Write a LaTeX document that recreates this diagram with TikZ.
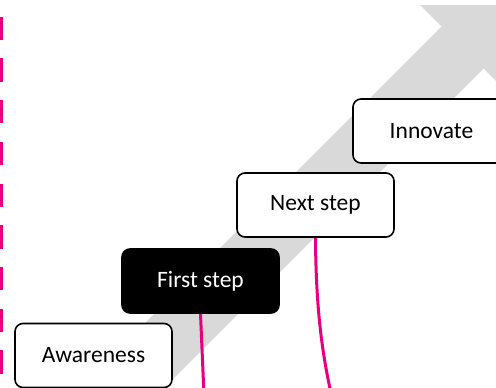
\documentclass[tikz,border=0pt]{standalone}
\usepackage{fontspec}
\setmainfont{Carlito}
\definecolor{magentaline}{RGB}{230,0,126}
\definecolor{arrowgray}{RGB}{217,217,217}
\pgfdeclarelayer{back}
\pgfdeclarelayer{links}
\pgfsetlayers{back,links,main}
\begin{document}
\begin{tikzpicture}[x=1pt,y=-1pt,
  stepbox/.style={draw=black, line width=1.6pt, rounded corners=8pt, fill=white,
    minimum width=157pt, minimum height=64pt, inner sep=0pt,
    font=\fontsize{23.5}{28}\selectfont},
  activebox/.style={stepbox, fill=black, text=white},
  link/.style={draw=magentaline, line width=3pt}]
\useasboundingbox (0,0) rectangle (496,388);
\clip (0,0) rectangle (496,388);
% step boxes
\node[stepbox] (aw) at (93.5,355.5) {Awareness};
\node[activebox] (fs) at (200.5,281) {First step};
\node[stepbox] (ns) at (315.5,205) {Next step};
\node[stepbox] (in) at (431.5,131) {Innovate};
% big gray arrow
\begin{pgfonlayer}{back}
\fill[arrowgray] (68,400) -- (441.5,26.5) -- (420,5) -- (505,5) -- (505,90) -- (483.5,68.5) -- (152,400) -- cycle;
\end{pgfonlayer}
% dashed boundary
\coordinate (dtop) at (1.35,16.7);
\coordinate (dbot) at (1.35,390);
\draw[draw=magentaline, line width=2.7pt, dash pattern=on 23.3pt off 18.4pt] (dtop) -- (dbot);
% connectors leaving the picture
\coordinate (awend) at (93.5,430);
\coordinate (fsend) at (205.5,430);
\coordinate (nsend) at (340,430);
\begin{pgfonlayer}{links}
\path[link] (aw.south) -- (awend);
\path[link] (fs.south) -- (fsend);
\path[link] (ns.south) .. controls (316,320) and (324,370) .. (nsend);
\end{pgfonlayer}
\end{tikzpicture}
\end{document}
